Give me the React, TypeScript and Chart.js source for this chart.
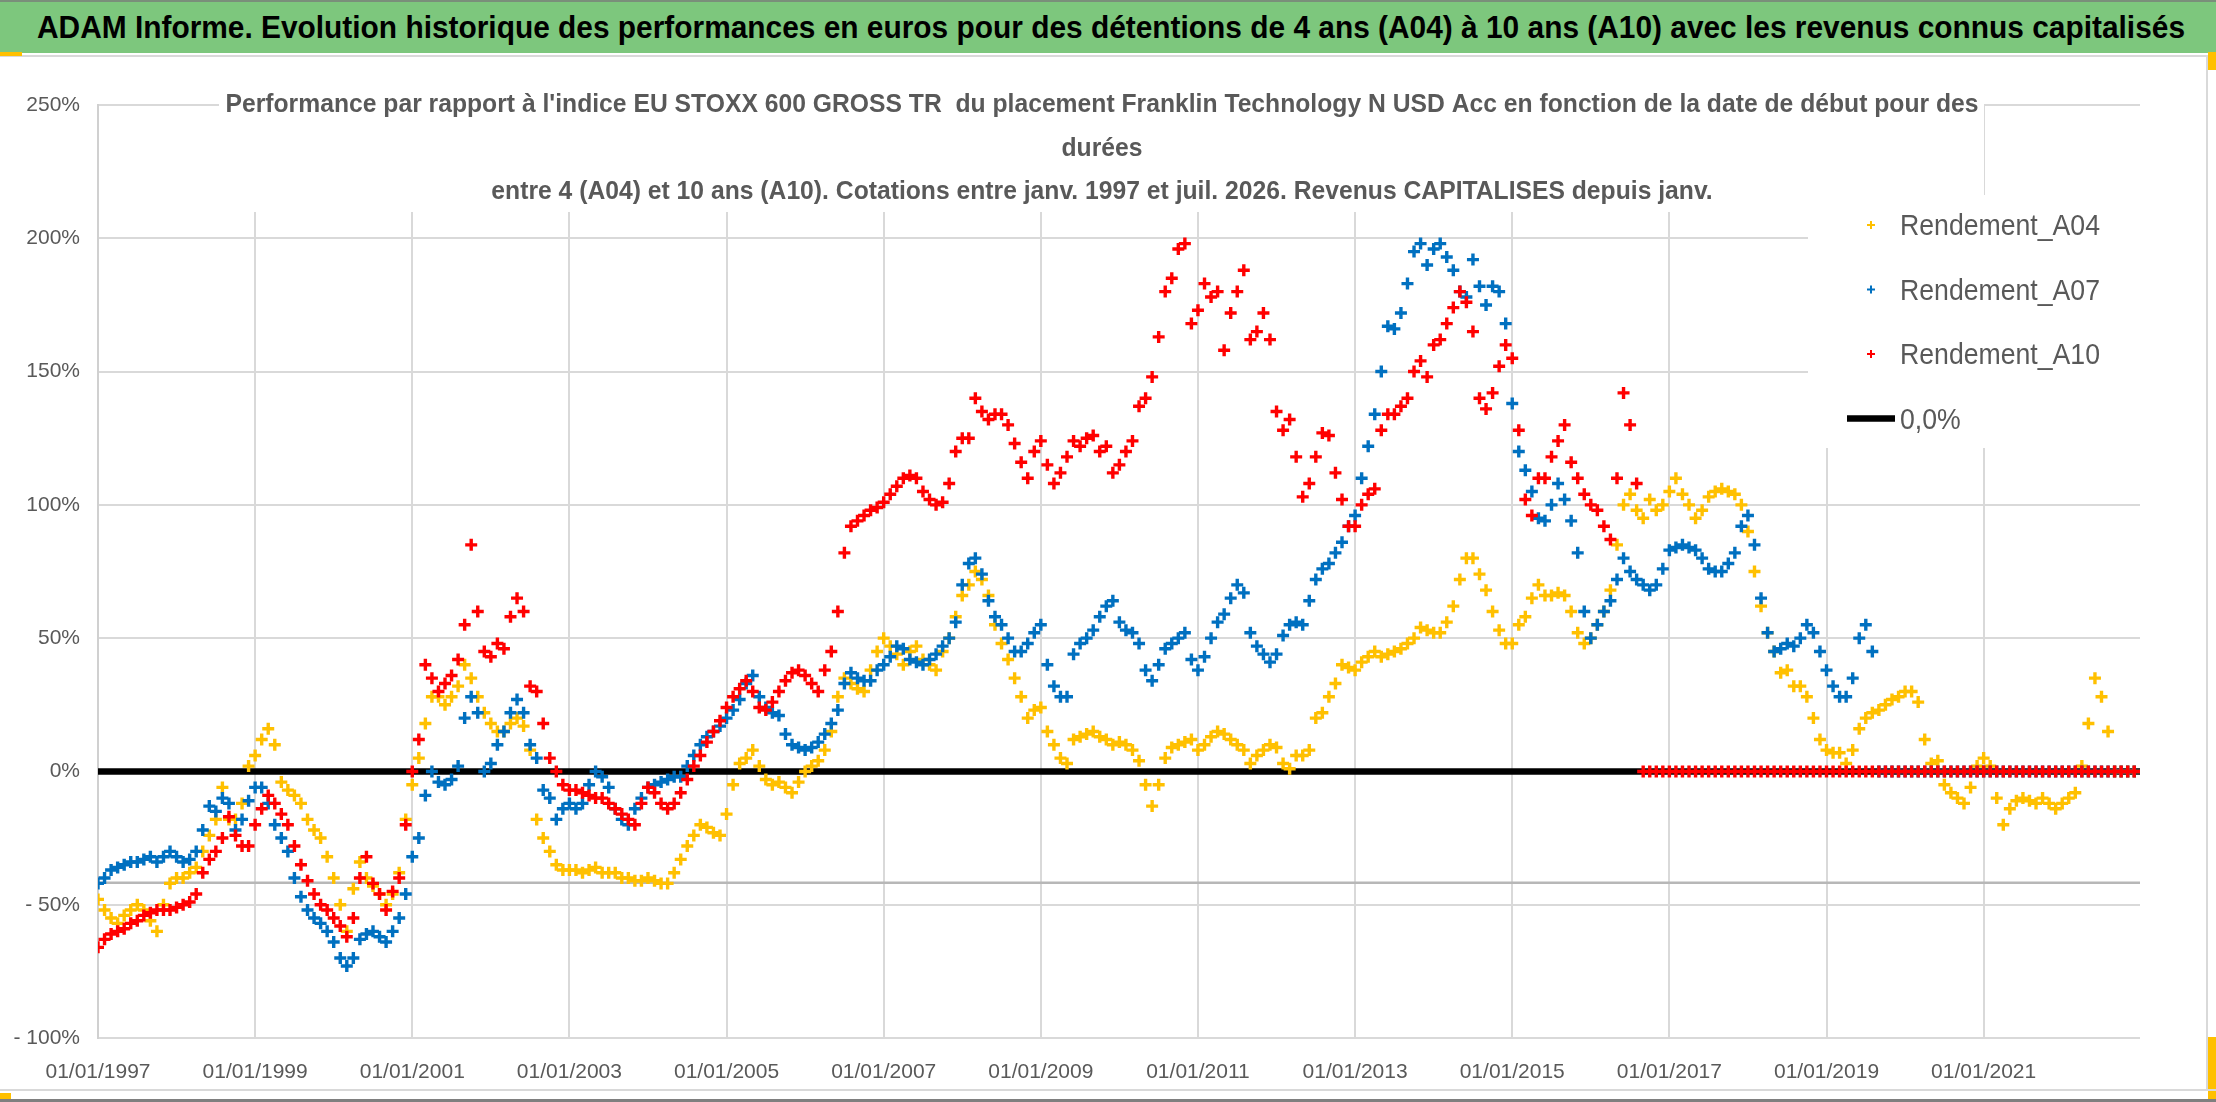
import React, { useEffect, useLayoutEffect, useRef } from "react";
import { Chart, registerables } from "chart.js";

Chart.register(...registerables);

// date de début des séries (une valeur par mois, janv. 1997 -> déc. 2022)
const startYear = 1997;
const axisSpanYears = 25.99;

// Rendement_A04 (%)
const rendementA04 = [
  -48, -52, -55, -57, -54, -52, -50, -52, -56, -60, -50, -42, // 1997
  -40, -40, -38, -36, -30, -24, -18, -6, -18, -18, -12, 2, // 1998
  6, 12, 16, 10, -4, -7, -9, -12, -18, -22, -25, -32, // 1999
  -40, -50, -60, -44, -34, -40, -43, -46, -50, -46, -38, -18, // 2000
  -5, 5, 18, 28, 28, 25, 28, 32, 40, 35, 28, 22, // 2001
  18, 15, 15, 18, 20, 17, 8, -18, -25, -30, -35, -37, // 2002
  -37, -37, -38, -37, -36, -38, -38, -38, -40, -40, -41, -41, // 2003
  -40, -41, -42, -42, -38, -33, -28, -24, -20, -21, -23, -24, // 2004
  -16, -5, 3, 5, 8, 2, -3, -5, -4, -6, -8, -4, // 2005
  0, 2, 4, 8, 15, 28, 35, 33, 31, 30, 38, 45, // 2006
  50, 47, 44, 40, 45, 47, 42, 40, 38, 45, 50, 58, // 2007
  66, 70, 75, 72, 66, 55, 48, 42, 35, 28, 20, 23, // 2008
  24, 15, 10, 5, 3, 12, 13, 14, 15, 13, 12, 10, // 2009
  11, 10, 8, 4, -5, -13, -5, 5, 9, 10, 11, 12, // 2010
  8, 10, 13, 15, 14, 12, 10, 8, 3, 6, 8, 10, // 2011
  9, 3, 1, 6, 6, 8, 20, 22, 28, 33, 40, 39, // 2012
  38, 41, 43, 45, 43, 44, 45, 46, 48, 50, 54, 53, // 2013
  52, 52, 56, 62, 72, 80, 80, 74, 68, 60, 53, 48, // 2014
  48, 55, 58, 65, 70, 66, 66, 67, 66, 60, 52, 48, // 2015
  50, 55, 60, 68, 85, 100, 104, 98, 95, 102, 98, 100, // 2016
  105, 110, 104, 100, 95, 98, 103, 105, 106, 105, 104, 100, // 2017
  90, 75, 62, 52, 45, 37, 38, 32, 32, 28, 20, 12, // 2018
  8, 7, 7, 3, 8, 16, 20, 22, 23, 25, 27, 28, // 2019
  30, 30, 26, 12, 3, 4, -5, -8, -10, -12, -6, 2, // 2020
  5, 2, -10, -20, -14, -11, -10, -11, -12, -10, -12, -14, // 2021
  -12, -10, -8, 2, 18, 35, 28, 15, 0, 0, 0, 0, // 2022
];

// Rendement_A07 (%)
const rendementA07 = [
  -42, -40, -37, -36, -35, -34, -34, -33, -32, -34, -32, -30, // 1997
  -32, -34, -33, -30, -22, -13, -15, -10, -12, -22, -18, -11, // 1998
  -6, -6, -12, -20, -25, -30, -40, -47, -52, -55, -57, -60, // 1999
  -64, -70, -73, -70, -63, -61, -60, -62, -64, -60, -55, -46, // 2000
  -32, -25, -9, 0, -4, -5, -3, 2, 20, 28, 22, 0, // 2001
  3, 10, 15, 22, 27, 22, 10, 5, -7, -10, -18, -14, // 2002
  -12, -14, -12, -5, 0, -2, -6, -14, -18, -20, -14, -10, // 2003
  -6, -5, -4, -3, -2, -2, 2, 6, 10, 13, 15, 17, // 2004
  20, 23, 27, 33, 36, 28, 24, 22, 21, 14, 10, 9, // 2005
  8, 9, 11, 14, 18, 23, 33, 37, 35, 34, 34, 38, // 2006
  40, 43, 47, 46, 42, 41, 40, 42, 44, 47, 50, 56, // 2007
  70, 78, 80, 74, 64, 58, 55, 50, 45, 45, 48, 52, // 2008
  55, 40, 32, 28, 28, 44, 48, 50, 53, 58, 62, 64, // 2009
  56, 53, 52, 48, 38, 34, 40, 46, 48, 50, 52, 42, // 2010
  38, 43, 50, 56, 59, 65, 70, 67, 52, 47, 44, 41, // 2011
  44, 51, 55, 56, 55, 64, 72, 76, 78, 82, 86, 92, // 2012
  96, 110, 122, 134, 150, 167, 166, 172, 183, 195, 198, 190, // 2013
  196, 198, 193, 188, 180, 178, 192, 182, 175, 182, 180, 168, // 2014
  138, 120, 113, 105, 95, 94, 100, 108, 102, 94, 82, 60, // 2015
  50, 55, 60, 64, 72, 80, 75, 72, 70, 68, 70, 76, // 2016
  83, 84, 85, 84, 83, 80, 76, 75, 75, 78, 82, 92, // 2017
  96, 85, 65, 52, 45, 46, 48, 47, 50, 55, 52, 45, // 2018
  38, 32, 28, 28, 35, 50, 55, 45, 0, 0, 0, 0, // 2019
  0, 0, 0, 0, 0, 0, 0, 0, 0, 0, 0, 0, // 2020
  0, 0, 0, 0, 0, 0, 0, 0, 0, 0, 0, 0, // 2021
  0, 0, 0, 0, 0, 0, 0, 0, 0, 0, 0, 0, // 2022
];

// Rendement_A10 (%)
const rendementA10 = [
  -66, -63, -61, -60, -59, -57, -56, -54, -53, -52, -52, -52, // 1997
  -51, -50, -49, -46, -38, -33, -30, -25, -17, -24, -28, -28, // 1998
  -20, -14, -9, -12, -16, -20, -28, -35, -41, -46, -50, -52, // 1999
  -55, -58, -62, -55, -40, -32, -42, -46, -52, -45, -40, -20, // 2000
  0, 12, 40, 35, 30, 33, 36, 42, 55, 85, 60, 45, // 2001
  43, 48, 46, 58, 65, 60, 32, 30, 18, 5, 0, -5, // 2002
  -7, -7, -8, -9, -10, -10, -12, -14, -16, -18, -20, -12, // 2003
  -6, -8, -12, -14, -12, -8, -3, 2, 6, 11, 15, 19, // 2004
  24, 28, 31, 34, 30, 24, 23, 26, 30, 34, 37, 38, // 2005
  36, 33, 30, 38, 45, 60, 82, 92, 94, 96, 98, 99, // 2006
  101, 104, 107, 110, 111, 110, 105, 102, 100, 101, 108, 120, // 2007
  125, 125, 140, 135, 132, 134, 134, 130, 123, 116, 110, 120, // 2008
  124, 115, 108, 112, 118, 124, 122, 125, 126, 120, 122, 112, // 2009
  115, 120, 124, 137, 140, 148, 163, 180, 185, 196, 198, 168, // 2010
  173, 183, 178, 180, 158, 172, 180, 188, 162, 165, 172, 162, // 2011
  135, 128, 132, 118, 103, 108, 118, 127, 126, 112, 102, 92, // 2012
  92, 100, 104, 106, 128, 134, 134, 137, 140, 150, 154, 148, // 2013
  160, 162, 168, 174, 180, 176, 165, 140, 136, 142, 152, 160, // 2014
  155, 128, 102, 96, 110, 110, 118, 124, 130, 116, 110, 104, // 2015
  100, 98, 92, 87, 110, 142, 130, 108, 0, 0, 0, 0, // 2016
  0, 0, 0, 0, 0, 0, 0, 0, 0, 0, 0, 0, // 2017
  0, 0, 0, 0, 0, 0, 0, 0, 0, 0, 0, 0, // 2018
  0, 0, 0, 0, 0, 0, 0, 0, 0, 0, 0, 0, // 2019
  0, 0, 0, 0, 0, 0, 0, 0, 0, 0, 0, 0, // 2020
  0, 0, 0, 0, 0, 0, 0, 0, 0, 0, 0, 0, // 2021
  0, 0, 0, 0, 0, 0, 0, 0, 0, 0, 0, 0, // 2022
];

const seriesLabels = ["Rendement_A04", "Rendement_A07", "Rendement_A10", "0,0%"];
const seriesColors = ["#FFC000", "#0070C0", "#FF0000", "#000000"];
const zeroLine = [0, 0];
const greyLine = [-41.8, -41.8];

const bannerText =
  "ADAM Informe. Evolution historique des performances en euros pour des détentions de 4 ans (A04) à 10 ans (A10) avec les revenus connus capitalisés";
const titleLines = [
  "Performance par rapport à l'indice EU STOXX 600 GROSS TR  du placement Franklin Technology N USD Acc en fonction de la date de début pour des",
  "durées",
  "entre 4 (A04) et 10 ans (A10). Cotations entre janv. 1997 et juil. 2026. Revenus CAPITALISES depuis janv.",
];

const FONT = '"Liberation Sans", Arial, sans-serif';

const toPoints = (vals: number[]) => vals.map((v, i) => ({ x: i / 12, y: v }));

// titre du graphique, posé sur la zone de tracé avec un fond blanc
const titlePlugin = {
  id: "excelTitle",
  afterDraw(chart: any) {
    const ctx = chart.ctx;
    ctx.save();
    ctx.fillStyle = "#ffffff";
    ctx.fillRect(219, 36, 1765, 119);
    ctx.font = "bold 25px " + FONT;
    const sx = 1753 / ctx.measureText(titleLines[0]).width;
    const base = [55, 99, 142];
    titleLines.forEach((t, i) => {
      ctx.save();
      ctx.translate(1102, base[i]);
      ctx.scale(sx, 1);
      ctx.textAlign = "center";
      ctx.textBaseline = "alphabetic";
      ctx.fillStyle = "#595959";
      ctx.fillText(t, 0, 0);
      ctx.restore();
    });
    ctx.restore();
  },
};

const legendPlugin = {
  id: "excelLegend",
  afterDraw(chart: any) {
    const ctx = chart.ctx;
    const right = chart.chartArea.right;
    ctx.save();
    ctx.fillStyle = "#ffffff";
    ctx.fillRect(right - 332, 138, 332, 253);
    ctx.font = "29px " + FONT;
    const sx = 200 / ctx.measureText(seriesLabels[0]).width;
    seriesLabels.forEach((label, i) => {
      const cy = 168 + i * 64.5;
      const color = seriesColors[i];
      if (label === "0,0%") {
        ctx.strokeStyle = color;
        ctx.lineWidth = 6.5;
        ctx.beginPath();
        ctx.moveTo(right - 293, cy);
        ctx.lineTo(right - 245, cy);
        ctx.stroke();
      } else {
        ctx.strokeStyle = color;
        ctx.lineWidth = 2;
        ctx.beginPath();
        ctx.moveTo(right - 273, cy);
        ctx.lineTo(right - 265, cy);
        ctx.moveTo(right - 269, cy - 4);
        ctx.lineTo(right - 269, cy + 4);
        ctx.stroke();
      }
      ctx.save();
      ctx.translate(right - 240, cy + 10);
      ctx.scale(sx, 1);
      ctx.fillStyle = "#595959";
      ctx.textAlign = "left";
      ctx.textBaseline = "alphabetic";
      ctx.fillText(label, 0, 0);
      ctx.restore();
    });
    ctx.restore();
  },
};

const scatterSet = (label: string, vals: number[], color: string, order: number) => ({
  type: "scatter" as const,
  label,
  data: toPoints(vals),
  pointStyle: "cross",
  pointRadius: 6,
  pointBorderWidth: 3.4,
  borderColor: color,
  backgroundColor: color,
  showLine: false,
  order,
});

const Banner = () => {
  const ref = useRef<HTMLSpanElement>(null);
  useLayoutEffect(() => {
    const el = ref.current;
    if (!el) return;
    el.style.transform = "none";
    const w = el.getBoundingClientRect().width;
    el.style.transform = `scaleX(${2148 / w})`;
  });
  return (
    <div
      style={{
        position: "absolute",
        left: 0,
        top: 0,
        width: 2216,
        height: 51,
        background: "#7DC77D",
        borderTop: "2px solid #7a8f7a",
        overflow: "hidden",
      }}
    >
      <span
        ref={ref}
        style={{
          position: "absolute",
          left: 37,
          top: 0,
          lineHeight: "51px",
          fontFamily: FONT,
          fontWeight: "bold",
          fontSize: 32,
          color: "#000",
          whiteSpace: "nowrap",
          transformOrigin: "left center",
          display: "inline-block",
        }}
      >
        {bannerText}
      </span>
    </div>
  );
};

const PerformanceChart = () => {
  const canvasRef = useRef<HTMLCanvasElement>(null);

  useEffect(() => {
    const canvas = canvasRef.current as HTMLCanvasElement;
    const config: any = {
      type: "scatter",
      data: {
        datasets: [
          scatterSet(seriesLabels[0], rendementA04, seriesColors[0], 3),
          scatterSet(seriesLabels[1], rendementA07, seriesColors[1], 2),
          scatterSet(seriesLabels[2], rendementA10, seriesColors[2], 1),
          {
            type: "line",
            label: seriesLabels[3],
            data: [
              { x: 0, y: zeroLine[0] },
              { x: axisSpanYears, y: zeroLine[1] },
            ],
            borderColor: seriesColors[3],
            borderWidth: 6.5,
            pointRadius: 0,
            order: 5,
          },
          {
            type: "line",
            label: "niveau",
            data: [
              { x: 0, y: greyLine[0] },
              { x: axisSpanYears, y: greyLine[1] },
            ],
            borderColor: "#B7B7B7",
            borderWidth: 2.5,
            pointRadius: 0,
            order: 6,
          },
        ],
      },
      options: {
        animation: false,
        responsive: true,
        maintainAspectRatio: false,
        events: [],
        layout: { padding: { left: 0, right: 68, top: 48, bottom: 0 } },
        plugins: {
          legend: { display: false },
          title: { display: false },
          tooltip: { enabled: false },
        },
        scales: {
          x: {
            type: "linear",
            min: 0,
            max: axisSpanYears,
            afterFit: (scale: any) => {
              scale.height = 52;
            },
            grid: { color: "#D9D9D9", lineWidth: 2, drawTicks: false },
            border: { display: false },
            ticks: {
              stepSize: 2,
              includeBounds: false,
              maxRotation: 0,
              autoSkip: false,
              padding: 22,
              color: "#595959",
              font: { family: FONT, size: 21 },
              callback: (v: any) => "01/01/" + (startYear + Number(v)),
            },
          },
          y: {
            min: -100,
            max: 250,
            afterFit: (scale: any) => {
              scale.width = 98;
            },
            grid: { color: "#D9D9D9", lineWidth: 2, drawTicks: false },
            border: { display: true, color: "#D0D0D0", width: 2 },
            ticks: {
              stepSize: 50,
              padding: 18,
              color: "#595959",
              font: { family: FONT, size: 21 },
              callback: (v: any) => (v < 0 ? "- " + -v + "%" : v + "%"),
            },
          },
        },
      },
      plugins: [titlePlugin, legendPlugin],
    };
    const chart = new Chart(canvas, config);
    return () => chart.destroy();
  }, []);

  return (
    <div style={{ position: "absolute", left: 0, top: 57, width: 2208, height: 1033 }}>
      <canvas ref={canvasRef}></canvas>
    </div>
  );
};

const App = () => {
  return (
    <div
      style={{
        position: "fixed",
        left: 0,
        top: 0,
        width: 2216,
        height: 1102,
        background: "#ffffff",
        overflow: "hidden",
      }}
    >
      <Banner />
      <div style={{ position: "absolute", left: 0, top: 55, width: 2216, height: 2, background: "#D9D9D9" }} />
      <div style={{ position: "absolute", left: 0, top: 52, width: 22, height: 4, background: "#FFC000" }} />
      <PerformanceChart />
      <div style={{ position: "absolute", left: 2206, top: 57, width: 2, height: 1033, background: "#D9D9D9" }} />
      <div style={{ position: "absolute", left: 2208, top: 52, width: 8, height: 18, background: "#FFC000" }} />
      <div style={{ position: "absolute", left: 2208, top: 1037, width: 8, height: 62, background: "#FFC000" }} />
      <div style={{ position: "absolute", left: 0, top: 1089, width: 2216, height: 2, background: "#D9D9D9" }} />
      <div style={{ position: "absolute", left: 0, top: 1099, width: 2216, height: 3, background: "#7F7F7F" }} />
      <div style={{ position: "absolute", left: 0, top: 1093, width: 11, height: 6, background: "#FFC000" }} />
    </div>
  );
};

export default App;
